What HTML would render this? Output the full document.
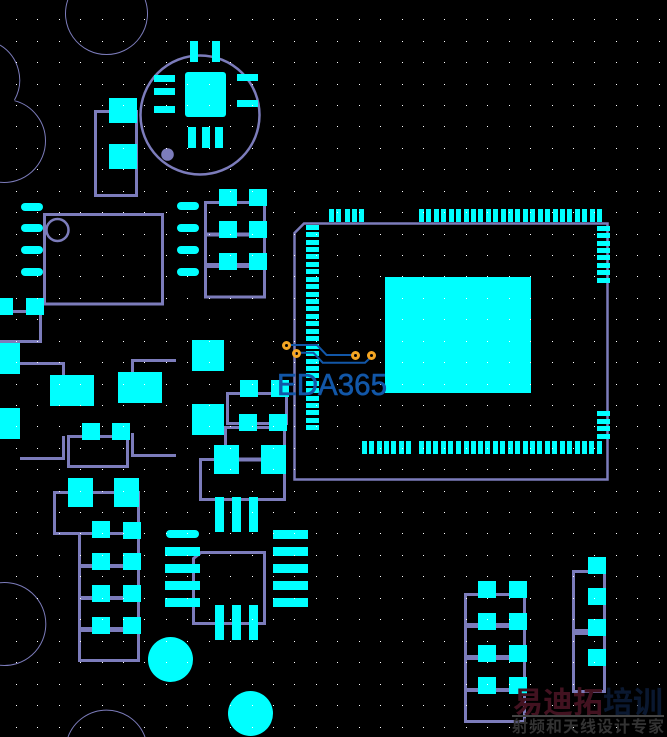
<!DOCTYPE html>
<html><head><meta charset="utf-8"><style>
html,body{margin:0;padding:0;background:#000;overflow:hidden;width:667px;height:737px}
svg{display:block}
</style></head><body>
<svg xmlns="http://www.w3.org/2000/svg" width="667" height="737" viewBox="0 0 667 737">
<defs>
<path id="r" fill="none" stroke="#fff" stroke-width="1" d="M16 .5h1M37 .5h1M59 .5h1M80 .5h1M102 .5h1M123 .5h1M144 .5h1M166 .5h1M187 .5h1M209 .5h1M230 .5h1M252 .5h1M273 .5h1M294 .5h1M316 .5h1M337 .5h1M359 .5h1M380 .5h1M402 .5h1M423 .5h1M444 .5h1M466 .5h1M487 .5h1M509 .5h1M530 .5h1M552 .5h1M573 .5h1M594 .5h1M616 .5h1M637 .5h1M659 .5h1"/>
</defs>
<rect width="667" height="737" fill="#000"/>
<!-- thin outline circles -->
<g fill="none" stroke="#7c7cbb" stroke-width="1">
<path d="M67.8 0A41 41 0 1 0 145.2 0"/>
<path d="M0 45A41 41 0 0 1 14.5 100"/>
<path d="M14.5 100.7A41.5 41.5 0 0 1 45.5 141A41.5 41.5 0 0 1 0 182.3"/>
<path d="M0 582.7A41.5 41.5 0 0 1 45.8 624A41.5 41.5 0 0 1 0 665.3"/>
<path d="M68 737A41 41 0 0 1 145 737"/>
</g>
<!-- silkscreen -->
<g fill="none" stroke="#7c7cbb" stroke-width="3">
<circle cx="200" cy="115" r="59.5" stroke-width="2.5"/>
<rect x="95.5" y="111.5" width="41" height="84"/>
<rect x="44.5" y="214.5" width="118" height="89.5"/>
<circle cx="57.5" cy="230" r="11" stroke-width="2.5"/>
<rect x="205.5" y="202.5" width="59" height="94.5"/>
<path d="M205 234.5H265" stroke-width="4"/>
<path d="M205 265.5H265" stroke-width="5"/>
<path d="M13 311.5H40.5V341.5H0"/>
<path d="M20 363.5H63.5V375"/>
<path d="M132.5 372V360.5H176"/>
<path d="M63.5 436V458.5H20"/>
<path d="M132.5 433V455.5H176"/>
<rect x="68.5" y="436.5" width="59" height="30"/>
<rect x="227.5" y="393.5" width="59" height="30"/>
<path d="M225.5 459V427.5H284.5V499.5H200.5V459.5H285"/>
<path d="M214 459.5H286" stroke-width="4"/>
<rect x="54.5" y="492.5" width="84" height="41"/>
<rect x="79.5" y="533.5" width="59" height="127"/>
<path d="M79 566H139" stroke-width="4"/>
<path d="M79 598H139" stroke-width="4"/>
<path d="M79 629.5H139" stroke-width="5"/>
<path d="M193.5 558.5L201 552.5H264.5V623.5H193.5Z"/>
<path d="M304 223.5H607.5V479.5H294.5V233Z" stroke-width="2.5"/>
<rect x="465.5" y="594.5" width="59" height="127"/>
<path d="M465 625.5H525" stroke-width="5"/>
<path d="M465 657.5H525" stroke-width="5"/>
<path d="M465 690H525" stroke-width="4"/>
<rect x="573.5" y="571.5" width="31" height="120"/>
<path d="M573 632H592" stroke-width="6"/>
</g>
<circle cx="167.5" cy="154.5" r="6.3" fill="#7c7cbb"/>
<!-- pads -->
<g fill="#0ff">
<rect x="190" y="41" width="8" height="21"/><rect x="212" y="41" width="8" height="21"/>
<rect x="185" y="72" width="41" height="45" rx="3"/>
<rect x="154" y="75" width="21" height="7"/><rect x="154" y="88" width="21" height="7"/><rect x="154" y="106" width="21" height="7"/>
<rect x="237" y="74" width="21" height="7"/><rect x="237" y="100" width="21" height="7"/>
<rect x="188" y="127" width="8" height="21"/><rect x="202" y="127" width="8" height="21"/><rect x="215" y="127" width="8" height="21"/>
<rect x="109" y="98" width="28" height="25"/><rect x="109" y="144" width="28" height="25"/>
<rect x="21" y="203" width="22" height="8" rx="4"/><rect x="21" y="224" width="22" height="8" rx="4"/><rect x="21" y="246" width="22" height="8" rx="4"/><rect x="21" y="268" width="22" height="8" rx="4"/>
<rect x="177" y="202" width="22" height="8" rx="4"/><rect x="177" y="224" width="22" height="8" rx="4"/><rect x="177" y="246" width="22" height="8" rx="4"/><rect x="177" y="268" width="22" height="8" rx="4"/>
<rect x="219" y="189" width="18" height="17"/><rect x="249" y="189" width="18" height="17"/>
<rect x="219" y="221" width="18" height="17"/><rect x="249" y="221" width="18" height="17"/>
<rect x="219" y="253" width="18" height="17"/><rect x="249" y="253" width="18" height="17"/>
<rect x="0" y="298" width="13" height="17"/><rect x="26" y="298" width="18" height="17"/>
<rect x="0" y="343" width="20" height="31"/><rect x="0" y="408" width="20" height="31"/>
<rect x="50" y="375" width="44" height="31"/><rect x="118" y="372" width="44" height="31"/>
<rect x="192" y="340" width="32" height="31"/><rect x="192" y="404" width="32" height="31"/>
<rect x="82" y="423" width="18" height="17"/><rect x="112" y="423" width="18" height="17"/>
<rect x="240" y="380" width="18" height="17"/><rect x="271" y="380" width="18" height="17"/>
<rect x="239" y="414" width="18" height="17"/><rect x="269" y="414" width="18" height="17"/>
<rect x="214" y="445" width="25" height="29"/><rect x="261" y="445" width="25" height="29"/>
<rect x="215" y="497" width="9" height="35"/><rect x="232" y="497" width="9" height="35"/><rect x="249" y="497" width="9" height="35"/>
<rect x="68" y="478" width="25" height="29"/><rect x="114" y="478" width="25" height="29"/>
<rect x="92" y="521" width="18" height="17"/><rect x="123" y="522" width="18" height="17"/>
<rect x="92" y="553" width="18" height="17"/><rect x="123" y="553" width="18" height="17"/>
<rect x="92" y="585" width="18" height="17"/><rect x="123" y="585" width="18" height="17"/>
<rect x="92" y="617" width="18" height="17"/><rect x="123" y="617" width="18" height="17"/>
<rect x="166" y="530" width="33" height="8" rx="4"/>
<rect x="165" y="547" width="35" height="9"/><rect x="165" y="564" width="35" height="9"/><rect x="165" y="581" width="35" height="9"/><rect x="165" y="598" width="35" height="9"/>
<rect x="273" y="530" width="35" height="9"/><rect x="273" y="547" width="35" height="9"/><rect x="273" y="564" width="35" height="9"/><rect x="273" y="581" width="35" height="9"/><rect x="273" y="598" width="35" height="9"/>
<rect x="215" y="605" width="9" height="35"/><rect x="232" y="605" width="9" height="35"/><rect x="249" y="605" width="9" height="35"/>
<circle cx="170.5" cy="659.5" r="22.5"/><circle cx="250.5" cy="713.5" r="22.5"/>
<rect x="385" y="277" width="146" height="116"/>
<rect x="478" y="581" width="18" height="17"/><rect x="509" y="581" width="18" height="17"/>
<rect x="478" y="613" width="18" height="17"/><rect x="509" y="613" width="18" height="17"/>
<rect x="478" y="645" width="18" height="17"/><rect x="509" y="645" width="18" height="17"/>
<rect x="478" y="677" width="18" height="17"/><rect x="509" y="677" width="18" height="17"/>
<rect x="588" y="557" width="18" height="17"/><rect x="588" y="588" width="18" height="17"/><rect x="588" y="619" width="18" height="17"/><rect x="588" y="649" width="18" height="17"/>
</g>
<g fill="none" stroke="#0ff" stroke-width="5">
<path d="M331.5 209v13M338.5 209v13M347.5 209v13M354.5 209v13M361.5 209v13M421.5 209v13M428.5 209v13M436.5 209v13M443.5 209v13M451.5 209v13M458.5 209v13M466.5 209v13M473.5 209v13M480.5 209v13M488.5 209v13M495.5 209v13M503.5 209v13M510.5 209v13M517.5 209v13M525.5 209v13M532.5 209v13M540.5 209v13M547.5 209v13M555.5 209v13M562.5 209v13M569.5 209v13M577.5 209v13M584.5 209v13M592.5 209v13M599.5 209v13"/>
<path d="M364.5 441v13M371.5 441v13M379.5 441v13M386.5 441v13M393.5 441v13M401.5 441v13M408.5 441v13M421.5 441v13M428.5 441v13M435.5 441v13M443.5 441v13M450.5 441v13M458.5 441v13M466.5 441v13M473.5 441v13M480.5 441v13M487.5 441v13M495.5 441v13M502.5 441v13M510.5 441v13M517.5 441v13M525.5 441v13M532.5 441v13M539.5 441v13M547.5 441v13M554.5 441v13M562.5 441v13M569.5 441v13M577.5 441v13M584.5 441v13M591.5 441v13M599.5 441v13"/>
<path d="M306 227.5h13M306 234.5h13M306 242.5h13M306 249.5h13M306 256.5h13M306 264.5h13M306 271.5h13M306 279.5h13M306 286.5h13M306 294.5h13M306 301.5h13M306 308.5h13M306 316.5h13M306 323.5h13M306 331.5h13M306 338.5h13M306 346.5h13M306 353.5h13M306 361.5h13M306 368.5h13M306 375.5h13M306 383.5h13M306 390.5h13M306 398.5h13M306 405.5h13M306 412.5h13M306 420.5h13M306 427.5h13"/>
<path d="M597 228.5h13M597 235.5h13M597 243.5h13M597 250.5h13M597 257.5h13M597 265.5h13M597 272.5h13M597 280.5h13M597 413.5h13M597 421.5h13M597 428.5h13M597 436.5h13"/>
</g>
<!-- grid dots -->
<use href="#r" y="19"/><use href="#r" y="41"/><use href="#r" y="62"/><use href="#r" y="84"/><use href="#r" y="105"/><use href="#r" y="126"/><use href="#r" y="148"/><use href="#r" y="169"/><use href="#r" y="191"/><use href="#r" y="212"/><use href="#r" y="234"/><use href="#r" y="255"/><use href="#r" y="276"/><use href="#r" y="298"/><use href="#r" y="319"/><use href="#r" y="341"/><use href="#r" y="362"/><use href="#r" y="384"/><use href="#r" y="405"/><use href="#r" y="426"/><use href="#r" y="448"/><use href="#r" y="469"/><use href="#r" y="491"/><use href="#r" y="512"/><use href="#r" y="533"/><use href="#r" y="555"/><use href="#r" y="576"/><use href="#r" y="598"/><use href="#r" y="619"/><use href="#r" y="641"/><use href="#r" y="662"/><use href="#r" y="684"/><use href="#r" y="705"/><use href="#r" y="727"/>
<!-- logo -->
<g fill="none" stroke="#1257a8" stroke-width="2">
<path d="M290 345H317L326.5 355H352"/>
<path d="M300 352.8H313.5L322.7 362.7H365L369.5 358.5"/>
</g>
<g fill="none" stroke="#f5a623" stroke-width="3">
<circle cx="286.5" cy="345.5" r="3"/><circle cx="296.5" cy="353.5" r="3"/><circle cx="355.5" cy="355.5" r="3"/><circle cx="371.5" cy="355.5" r="3"/>
</g>
<text x="277" y="395" font-family="'Liberation Sans',sans-serif" font-size="31" fill="#1257a8" stroke="#1257a8" stroke-width=".6" textLength="110" lengthAdjust="spacingAndGlyphs">EDA365</text>
<!-- watermark -->
<g font-family="'Liberation Sans','Noto Sans CJK SC',sans-serif">
<text x="513" y="713" font-size="30" font-weight="700" fill="#421220">易迪拓</text>
<text x="603" y="713" font-size="30" font-weight="700" fill="#0a1830">培训</text>
<rect x="512" y="715" width="152" height="2" fill="#444"/>
<text x="512" y="732" font-size="16" font-weight="700" fill="#333" textLength="152" lengthAdjust="spacing">射频和天线设计专家</text>
</g>
</svg>
</body></html>
